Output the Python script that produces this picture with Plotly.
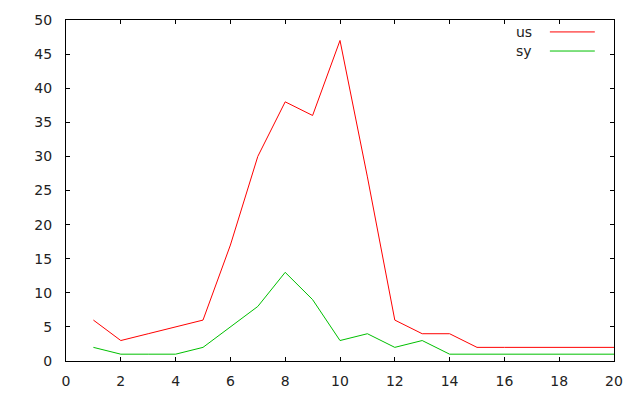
import plotly.graph_objects as go

x = list(range(1, 21))
us = [6, 3, 4, 5, 6, 17, 30, 38, 36, 47, 27, 6, 4, 4, 2, 2, 2, 2, 2, 2]
sy = [2, 1, 1, 1, 2, 5, 8, 13, 9, 3, 4, 2, 3, 1, 1, 1, 1, 1, 1, 1]
names = ["us", "sy"]
colors = ["#ff0000", "#00c000"]

fig = go.Figure()
for name, ys, c in zip(names, [us, sy], colors):
    fig.add_trace(go.Scatter(x=x, y=ys, mode="lines", name=name,
                             line=dict(color=c, width=1), showlegend=False))

# gnuplot-style legend (text right-aligned, sample line to the right)
leg_y = [0.965, 0.909]
for name, c, yy in zip(names, colors, leg_y):
    fig.add_annotation(xref="paper", yref="paper", x=0.854, y=yy, text=name,
                       showarrow=False, xanchor="right", yanchor="middle",
                       font=dict(family="DejaVu Sans", size=14, color="#222"))
    fig.add_shape(type="line", xref="paper", yref="paper", x0=0.883, x1=0.965,
                  y0=yy, y1=yy, line=dict(color=c, width=1))

axis_common = dict(showgrid=False, zeroline=False, showline=True, linecolor="black",
                   linewidth=1, mirror="ticks", ticks="inside", ticklen=4,
                   tickcolor="black", tickwidth=1, automargin=False,
                   tickfont=dict(family="DejaVu Sans", size=14, color="#222"))
fig.update_xaxes(range=[0, 20], tickvals=list(range(0, 21, 2)),
                 ticklabelstandoff=7, **axis_common)
fig.update_yaxes(range=[0, 50], tickvals=list(range(0, 51, 5)),
                 ticklabelstandoff=10, **axis_common)

fig.update_layout(width=640, height=400, plot_bgcolor="white", paper_bgcolor="white",
                  margin=dict(l=58, r=34, t=12, b=47))
fig.write_html("out.html")
